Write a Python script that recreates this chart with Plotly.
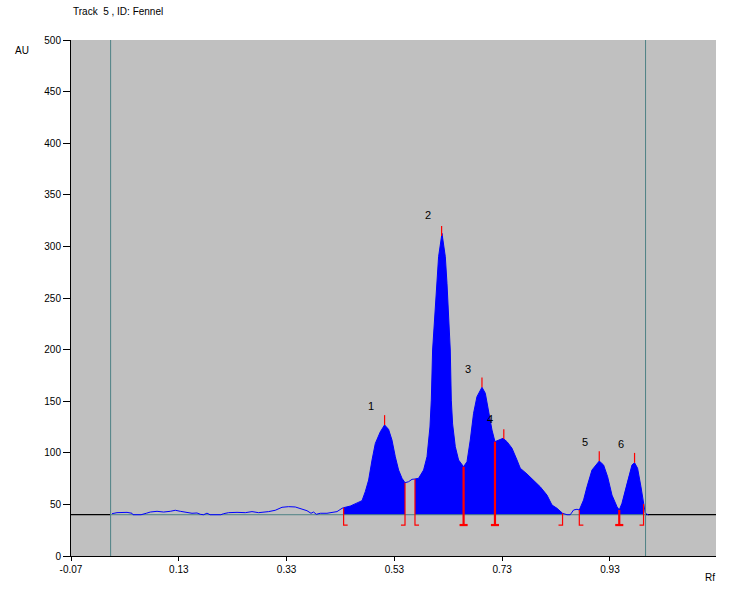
import numpy as np
import plotly.graph_objects as go

# ---------------- data ----------------
rf = [0.0061, 0.0153, 0.0339, 0.0432, 0.0450, 0.0600, 0.0697, 0.0771, 0.0896, 0.1018,
      0.1142, 0.1235, 0.1328, 0.1452, 0.1545, 0.1638, 0.1699, 0.1760, 0.1823, 0.1880,
      0.2080, 0.2131, 0.2224, 0.2380, 0.2534, 0.2658, 0.2781, 0.2966, 0.3090, 0.3215,
      0.3337, 0.3461, 0.3554, 0.3678, 0.3753, 0.3801, 0.3851, 0.3925, 0.4049, 0.4142,
      0.4235, 0.4328, 0.4358, 0.4482, 0.4606, 0.4699, 0.4760, 0.4822, 0.4885, 0.4946,
      0.5039, 0.5118, 0.5192, 0.5255, 0.5317, 0.5378, 0.5441, 0.5497, 0.5564, 0.5627,
      0.5682, 0.5749, 0.5842, 0.5905, 0.5960, 0.5985, 0.6009, 0.6046, 0.6091, 0.6120,
      0.6183, 0.6245, 0.6276, 0.6306, 0.6337, 0.6356, 0.6380, 0.6430, 0.6491, 0.6584,
      0.6647, 0.6708, 0.6769, 0.6832, 0.6925, 0.6987, 0.7048, 0.7111, 0.7166, 0.7233,
      0.7315, 0.7389, 0.7482, 0.7575, 0.7636, 0.7760, 0.7883, 0.8007, 0.8131, 0.8224,
      0.8317, 0.8420, 0.8502, 0.8563, 0.8625, 0.8688, 0.8731, 0.8810, 0.8873, 0.8966,
      0.9101, 0.9181, 0.9256, 0.9337, 0.9430, 0.9472, 0.9522, 0.9615, 0.9708, 0.9756,
      0.9812, 0.9875, 0.9923, 0.9955, 1.0016]
au = [41.0, 42.0, 42.3, 41.4, 40.0, 40.0, 41.4, 42.6, 43.3, 42.6,
      43.3, 44.3, 43.3, 42.0, 41.4, 41.7, 40.4, 40.0, 41.5, 40.0,
      40.0, 41.0, 42.0, 42.3, 42.0, 43.0, 42.0, 43.0, 44.3, 47.2,
      47.8, 47.5, 46.2, 43.9, 41.4, 42.6, 40.4, 41.4, 41.4, 42.0,
      43.0, 46.2, 46.8, 48.4, 51.0, 53.6, 62.3, 73.6, 93.0, 109.0,
      120.4, 127.0, 122.7, 112.4, 96.2, 83.3, 75.3, 71.0, 72.0, 74.3,
      74.6, 75.3, 83.3, 96.2, 125.0, 151.0, 199.6, 232.0, 264.0, 290.0,
      312.7, 290.0, 264.0, 232.0, 199.6, 151.0, 128.0, 106.0, 93.0, 86.5,
      91.4, 112.4, 138.3, 154.4, 163.5, 157.7, 138.3, 122.0, 110.8, 112.4,
      114.0, 110.8, 104.4, 93.0, 85.0, 79.5, 73.6, 67.0, 59.0, 49.4,
      46.2, 41.4, 40.0, 40.0, 44.6, 45.3, 44.6, 54.3, 67.0, 83.3,
      92.0, 88.2, 76.8, 59.0, 47.8, 44.6, 51.0, 70.4, 88.2, 90.4,
      85.0, 67.0, 50.4, 41.4, 39.7]

baseline_au = 40
track_lines_rf = [0.0035, 0.996]          # application start / solvent front

bound_rf = [0.4358, 0.5497, 0.5682, 0.6584, 0.7166, 0.8420, 0.8731, 0.9472, 0.9923]
bound_kind = ["start", "end", "start", "both", "both", "end", "start", "both", "end"]
bound_bottom_au = 30

peak_ids = ["1", "2", "3", "4", "5", "6"]
peak_rf = [0.5118, 0.6176, 0.6925, 0.7330, 0.9101, 0.9756]
label_rf = [0.4871, 0.5929, 0.6671, 0.7080, 0.8841, 0.9509]
label_au = [145.3, 330.4, 181.2, 132.5, 110.5, 108.5]

x_tick_vals = [-0.07, 0.13, 0.33, 0.53, 0.73, 0.93]
x_tick_text = ["-0.07", "0.13", "0.33", "0.53", "0.73", "0.93"]
x_range = [-0.07, 1.1267]
y_range = [0, 500]

# ---------------- figure ----------------
FONT = "Liberation Sans, Arial, sans-serif"
BLUE = "#0000FF"
RED = "#FF0000"
TEAL = "#4E8285"

rf_a = np.array(rf)
au_a = np.array(au)


def curve_at(x):
    return float(np.interp(x, rf_a, au_a))


fig = go.Figure()

# filled integration areas
fill_ranges = []
starts = []
for r, k in zip(bound_rf, bound_kind):
    if k in ("end", "both") and starts:
        fill_ranges.append((starts.pop(), r))
    if k in ("start", "both"):
        starts.append(r)

for a, b in fill_ranges:
    inside = (rf_a > a) & (rf_a < b)
    xs = [a] + list(rf_a[inside]) + [b]
    ys = [curve_at(a)] + list(au_a[inside]) + [curve_at(b)]
    fig.add_trace(go.Scatter(
        x=xs + [b, a], y=ys + [baseline_au, baseline_au],
        fill="toself", fillcolor=BLUE, mode="lines",
        line=dict(width=0, color=BLUE), hoverinfo="skip"))

# baseline (black outside track, teal inside)
fig.add_trace(go.Scatter(
    x=[x_range[0], track_lines_rf[0], None, track_lines_rf[1], x_range[1]],
    y=[baseline_au, baseline_au, None, baseline_au, baseline_au],
    mode="lines", line=dict(color="black", width=1.2), hoverinfo="skip"))
fig.add_trace(go.Scatter(
    x=track_lines_rf, y=[baseline_au, baseline_au],
    mode="lines", line=dict(color=TEAL, width=1), hoverinfo="skip"))

# scan curve
fig.add_trace(go.Scatter(x=rf, y=au, mode="lines",
                         line=dict(color=BLUE, width=1), hoverinfo="skip"))

# integration boundaries
foot = 0.0075
thin_x, thin_y, thick_x, thick_y = [], [], [], []
for r, k in zip(bound_rf, bound_kind):
    top = curve_at(r)
    if k == "start":
        thin_x += [r, r, r + foot, None]
        thin_y += [top, bound_bottom_au, bound_bottom_au, None]
    elif k == "end":
        thin_x += [r, r, r - foot, None]
        thin_y += [top, bound_bottom_au, bound_bottom_au, None]
    else:
        thick_x += [r, r, None, r - foot, r + foot, None]
        thick_y += [top, bound_bottom_au, None, bound_bottom_au, bound_bottom_au, None]
fig.add_trace(go.Scatter(x=thin_x, y=thin_y, mode="lines",
                         line=dict(color=RED, width=1.2), hoverinfo="skip"))
fig.add_trace(go.Scatter(x=thick_x, y=thick_y, mode="lines",
                         line=dict(color=RED, width=2.2), hoverinfo="skip"))

# peak-top markers
px, py = [], []
for r in peak_rf:
    h = curve_at(r)
    px += [r, r, None]
    py += [h, h + 9.5, None]
fig.add_trace(go.Scatter(x=px, y=py, mode="lines",
                         line=dict(color=RED, width=1.2), hoverinfo="skip"))

# track start / front lines
for r in track_lines_rf:
    fig.add_shape(type="line", x0=r, x1=r, y0=y_range[0], y1=y_range[1],
                  xref="x", yref="y", line=dict(color=TEAL, width=1))

# peak number labels
for t, x, y in zip(peak_ids, label_rf, label_au):
    fig.add_annotation(x=x, y=y, text=t, showarrow=False, xref="x", yref="y",
                       font=dict(family=FONT, size=11, color="black"))

# title and axis names
fig.add_annotation(x=0.0, y=1.0543, xref="paper", yref="paper", text="Track  5 , ID: Fennel",
                   showarrow=False, xanchor="left", yanchor="middle",
                   font=dict(family=FONT, size=10, color="black"))
fig.add_annotation(x=-0.0755, y=0.9787, xref="paper", yref="paper", text="AU",
                   showarrow=False, xanchor="center", yanchor="middle",
                   font=dict(family=FONT, size=10, color="black"))
fig.add_annotation(x=0.991, y=-0.0407, xref="paper", yref="paper", text="Rf",
                   showarrow=False, xanchor="center", yanchor="middle",
                   font=dict(family=FONT, size=10, color="black"))

fig.update_layout(
    width=746, height=594,
    margin=dict(l=71, r=30, t=40, b=38),
    plot_bgcolor="#C0C0C0", paper_bgcolor="white",
    showlegend=False,
    font=dict(family=FONT, size=10, color="black"),
    xaxis=dict(range=x_range, tickvals=x_tick_vals, ticktext=x_tick_text,
               showgrid=False, zeroline=False, showline=True, linecolor="black",
               linewidth=1, ticks="outside", ticklen=4, tickcolor="black",
               tickfont=dict(family=FONT, size=10, color="black")),
    yaxis=dict(range=y_range, dtick=50, showgrid=False, zeroline=False,
               showline=True, linecolor="black", linewidth=1, ticks="outside",
               ticklen=7, tickcolor="black",
               tickfont=dict(family=FONT, size=10, color="black")),
)

# remove the default page margin so the 746x594 figure fills the window exactly
fig.write_html("out.html",
               config={"displayModeBar": False},
               post_script="document.body.style.margin='0';document.body.style.overflow='hidden';")
